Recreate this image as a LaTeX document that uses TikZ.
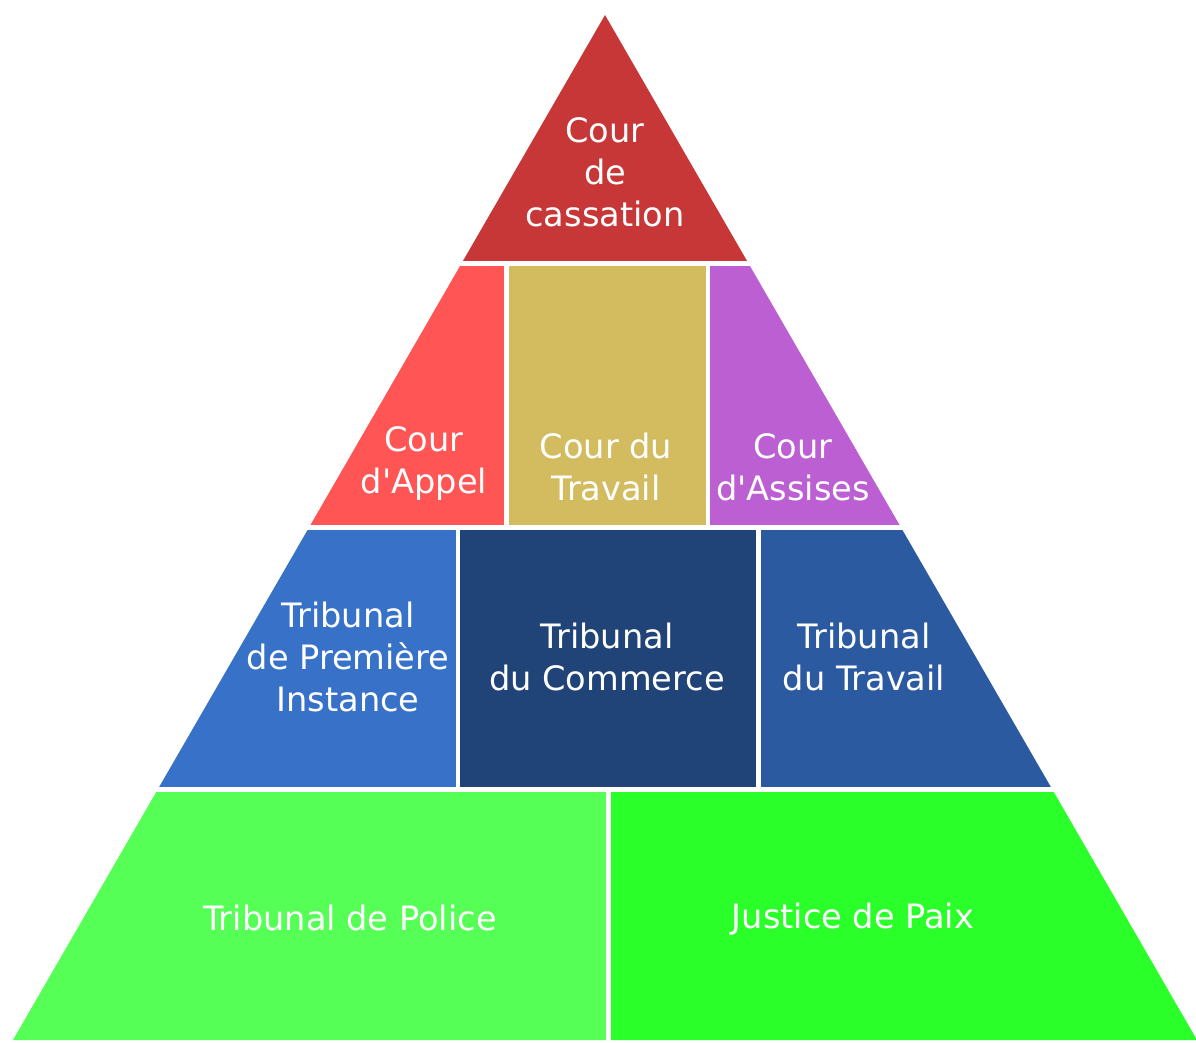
\documentclass[tikz,border=0pt]{standalone}
\usepackage{fontspec}
\setmainfont{DejaVu Sans}
\usepackage{xcolor}
\usetikzlibrary{positioning}
\definecolor{cassation}{HTML}{C83737}
\definecolor{appel}{HTML}{FF5555}
\definecolor{courtravail}{HTML}{D3BC5F}
\definecolor{assises}{HTML}{BC5FD3}
\definecolor{instance}{HTML}{3771C8}
\definecolor{commerce}{HTML}{214478}
\definecolor{tribtravail}{HTML}{2C5AA0}
\definecolor{police}{HTML}{55FF55}
\definecolor{paix}{HTML}{2AFF2A}
\tikzset{
    mylabel/.style={text=white,align=center,inner sep=0pt,
        font=\fontsize{16.8}{21}\selectfont}
}

\begin{document}
\begin{tikzpicture}[x=0.5pt,y=-0.5pt]
  \useasboundingbox (0,0) rectangle (1196,1043);
  % pyramid, cut into cells by white gaps
  \begin{scope}
    \clip (605,15) -- (13,1040) -- (1197,1040) -- cycle;
    \fill[cassation] (0,0) rectangle (1200,261);
    \fill[appel] (0,266) rectangle (504,525);
    \fill[courtravail] (509,266) rectangle (706,525);
    \fill[assises] (710,266) rectangle (1200,525);
    \fill[instance] (0,530) rectangle (456,787);
    \fill[commerce] (460,530) rectangle (756,787);
    \fill[tribtravail] (761,530) rectangle (1200,787);
    \fill[police] (0,792) rectangle (606,1043);
    \fill[paix] (611,792) rectangle (1200,1043);
  \end{scope}
  \node[mylabel] (cass) at (605,172) {Cour\\de\\cassation};
  \node[mylabel] (appel) at (424,464) {Cour\\d\textquotesingle Appel};
  \node[mylabel] (ctrav) at (606,467) {Cour du\\Travail};
  \node[mylabel] (assis) at (793,467) {Cour\\d\textquotesingle Assises};
  \node[mylabel] (inst) at (348,657) {Tribunal\\de Première\\Instance};
  \node[mylabel] (comm) at (607,657) {Tribunal\\du Commerce};
  \node[mylabel] (ttrav) at (864,657) {Tribunal\\du Travail};
  \node[mylabel] (pol) at (350,918) {Tribunal de Police};
  \node[mylabel] (paix) at (853,919) {Justice de Paix};
\end{tikzpicture}
\end{document}
